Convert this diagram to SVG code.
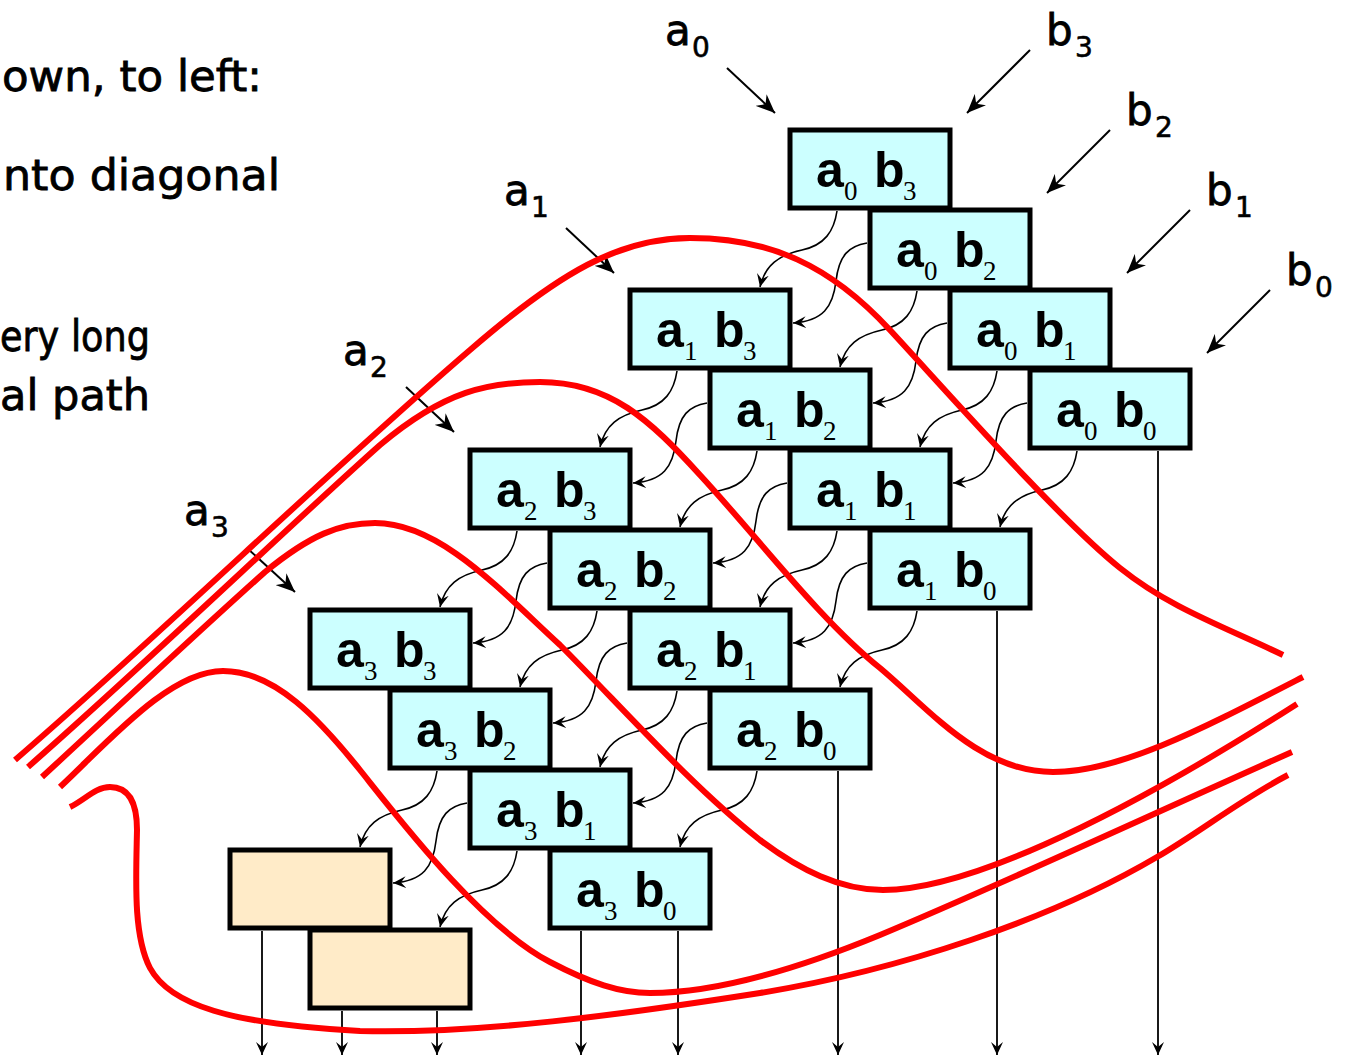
<svg xmlns="http://www.w3.org/2000/svg" width="1347" height="1058" viewBox="0 0 1347 1058">
<defs>
<style>
.pe{fill:#CCFFFF;stroke:#000;stroke-width:5}
.tan{fill:#FFEBC8;stroke:#000;stroke-width:5}
.m{font-family:"Liberation Sans",Arial,sans-serif;font-weight:bold;font-size:50px;fill:#000}
.s{font-family:"Liberation Serif","Times New Roman",serif;font-size:27px;fill:#000}
.c{font-family:"DejaVu Sans",sans-serif;font-size:42px;fill:#000;stroke:#000;stroke-width:0.8}
.cs{font-family:"DejaVu Sans",sans-serif;font-size:28px;fill:#000;stroke:#000;stroke-width:0.6}
.cn{fill:none;stroke:#000;stroke-width:1.6;marker-end:url(#ah)}
.out{fill:none;stroke:#000;stroke-width:1.8;marker-end:url(#ah)}
.in{fill:none;stroke:#000;stroke-width:2;marker-end:url(#ahL)}
.wf{fill:none;stroke:#FF0000;stroke-width:6}
</style>
<marker id="ah" viewBox="0 0 14 14" refX="13" refY="7" markerWidth="14" markerHeight="14" markerUnits="userSpaceOnUse" orient="auto"><path d="M0,1 L13,7 L0,13 L5,7 Z" fill="#000"/></marker>
<marker id="ahL" viewBox="0 0 20 16" refX="19" refY="8" markerWidth="20" markerHeight="16" markerUnits="userSpaceOnUse" orient="auto"><path d="M0,0 L19,8 L0,16 L6,8 Z" fill="#000"/></marker>
</defs>
<rect width="1347" height="1058" fill="#fff"/>

<g id="caption">
<text class="c" x="2" y="91" textLength="260" lengthAdjust="spacingAndGlyphs">own, to left:</text>
<text class="c" x="3" y="190" textLength="277" lengthAdjust="spacingAndGlyphs">nto diagonal</text>
<text class="c" x="0" y="351" textLength="150" lengthAdjust="spacingAndGlyphs">ery long</text>
<text class="c" x="0" y="410" textLength="150" lengthAdjust="spacingAndGlyphs">al path</text>
</g>

<g id="input-labels">
<text class="c" x="665" y="45">a</text><text class="cs" x="692" y="57">0</text>
<text class="c" x="504" y="205">a</text><text class="cs" x="531" y="217">1</text>
<text class="c" x="343" y="365">a</text><text class="cs" x="370" y="377">2</text>
<text class="c" x="184" y="525">a</text><text class="cs" x="211" y="537">3</text>
<text class="c" x="1046" y="45">b</text><text class="cs" x="1075" y="57">3</text>
<text class="c" x="1126" y="125">b</text><text class="cs" x="1155" y="137">2</text>
<text class="c" x="1206" y="205">b</text><text class="cs" x="1235" y="217">1</text>
<text class="c" x="1286" y="285">b</text><text class="cs" x="1315" y="297">0</text>
</g>

<g id="a0b3"><rect class="pe" x="790" y="130" width="160" height="78"/><text class="m" x="816" y="187">a</text><text class="s" x="844" y="200">0</text><text class="m" x="874" y="187">b</text><text class="s" x="903" y="200">3</text></g>
<g id="a0b2"><rect class="pe" x="870" y="210" width="160" height="78"/><text class="m" x="896" y="267">a</text><text class="s" x="924" y="280">0</text><text class="m" x="954" y="267">b</text><text class="s" x="983" y="280">2</text></g>
<g id="a0b1"><rect class="pe" x="950" y="290" width="160" height="78"/><text class="m" x="976" y="347">a</text><text class="s" x="1004" y="360">0</text><text class="m" x="1034" y="347">b</text><text class="s" x="1063" y="360">1</text></g>
<g id="a0b0"><rect class="pe" x="1030" y="370" width="160" height="78"/><text class="m" x="1056" y="427">a</text><text class="s" x="1084" y="440">0</text><text class="m" x="1114" y="427">b</text><text class="s" x="1143" y="440">0</text></g>
<g id="a1b3"><rect class="pe" x="630" y="290" width="160" height="78"/><text class="m" x="656" y="347">a</text><text class="s" x="684" y="360">1</text><text class="m" x="714" y="347">b</text><text class="s" x="743" y="360">3</text></g>
<g id="a1b2"><rect class="pe" x="710" y="370" width="160" height="78"/><text class="m" x="736" y="427">a</text><text class="s" x="764" y="440">1</text><text class="m" x="794" y="427">b</text><text class="s" x="823" y="440">2</text></g>
<g id="a1b1"><rect class="pe" x="790" y="450" width="160" height="78"/><text class="m" x="816" y="507">a</text><text class="s" x="844" y="520">1</text><text class="m" x="874" y="507">b</text><text class="s" x="903" y="520">1</text></g>
<g id="a1b0"><rect class="pe" x="870" y="530" width="160" height="78"/><text class="m" x="896" y="587">a</text><text class="s" x="924" y="600">1</text><text class="m" x="954" y="587">b</text><text class="s" x="983" y="600">0</text></g>
<g id="a2b3"><rect class="pe" x="470" y="450" width="160" height="78"/><text class="m" x="496" y="507">a</text><text class="s" x="524" y="520">2</text><text class="m" x="554" y="507">b</text><text class="s" x="583" y="520">3</text></g>
<g id="a2b2"><rect class="pe" x="550" y="530" width="160" height="78"/><text class="m" x="576" y="587">a</text><text class="s" x="604" y="600">2</text><text class="m" x="634" y="587">b</text><text class="s" x="663" y="600">2</text></g>
<g id="a2b1"><rect class="pe" x="630" y="610" width="160" height="78"/><text class="m" x="656" y="667">a</text><text class="s" x="684" y="680">2</text><text class="m" x="714" y="667">b</text><text class="s" x="743" y="680">1</text></g>
<g id="a2b0"><rect class="pe" x="710" y="690" width="160" height="78"/><text class="m" x="736" y="747">a</text><text class="s" x="764" y="760">2</text><text class="m" x="794" y="747">b</text><text class="s" x="823" y="760">0</text></g>
<g id="a3b3"><rect class="pe" x="310" y="610" width="160" height="78"/><text class="m" x="336" y="667">a</text><text class="s" x="364" y="680">3</text><text class="m" x="394" y="667">b</text><text class="s" x="423" y="680">3</text></g>
<g id="a3b2"><rect class="pe" x="390" y="690" width="160" height="78"/><text class="m" x="416" y="747">a</text><text class="s" x="444" y="760">3</text><text class="m" x="474" y="747">b</text><text class="s" x="503" y="760">2</text></g>
<g id="a3b1"><rect class="pe" x="470" y="770" width="160" height="78"/><text class="m" x="496" y="827">a</text><text class="s" x="524" y="840">3</text><text class="m" x="554" y="827">b</text><text class="s" x="583" y="840">1</text></g>
<g id="a3b0"><rect class="pe" x="550" y="850" width="160" height="78"/><text class="m" x="576" y="907">a</text><text class="s" x="604" y="920">3</text><text class="m" x="634" y="907">b</text><text class="s" x="663" y="920">0</text></g>
<g id="add1"><rect class="tan" x="230" y="850" width="160" height="78"/></g>
<g id="add2"><rect class="tan" x="310" y="930" width="160" height="78"/></g>

<g id="connectors">
<path class="in" d="M727,68 L775,113"/>
<path class="in" d="M566,228 L614,273"/>
<path class="in" d="M406,387 L454,432"/>
<path class="in" d="M247,548 L295,592"/>
<path class="in" d="M1030,50 L967,113"/>
<path class="in" d="M1110,130 L1047,193"/>
<path class="in" d="M1190,210 L1127,273"/>
<path class="in" d="M1270,290 L1207,353"/>

<path class="cn" d="M837,211 c-3,20 -12,34 -35,39 c-23,5 -37,15 -42,37"/>
<path class="cn" d="M917,291 c-3,20 -12,34 -35,39 c-23,5 -37,15 -42,37"/>
<path class="cn" d="M997,371 c-3,20 -12,34 -35,39 c-23,5 -37,15 -42,37"/>
<path class="cn" d="M1077,451 c-3,20 -12,34 -35,39 c-23,5 -37,15 -42,37"/>
<path class="cn" d="M677,371 c-3,20 -12,34 -35,39 c-23,5 -37,15 -42,37"/>
<path class="cn" d="M757,451 c-3,20 -12,34 -35,39 c-23,5 -37,15 -42,37"/>
<path class="cn" d="M837,531 c-3,20 -12,34 -35,39 c-23,5 -37,15 -42,37"/>
<path class="cn" d="M917,611 c-3,20 -12,34 -35,39 c-23,5 -37,15 -42,37"/>
<path class="cn" d="M517,531 c-3,20 -12,34 -35,39 c-23,5 -37,15 -42,37"/>
<path class="cn" d="M597,611 c-3,20 -12,34 -35,39 c-23,5 -37,15 -42,37"/>
<path class="cn" d="M677,691 c-3,20 -12,34 -35,39 c-23,5 -37,15 -42,37"/>
<path class="cn" d="M757,771 c-3,20 -12,34 -35,39 c-23,5 -37,15 -42,37"/>
<path class="cn" d="M437,771 c-3,20 -12,34 -35,39 c-23,5 -37,15 -42,37"/>
<path class="cn" d="M517,851 c-3,20 -12,34 -35,39 c-23,5 -37,15 -42,37"/>

<path class="cn" d="M867,243 c-18,3 -28,12 -31,38 c-3,26 -13,40 -43,42"/>
<path class="cn" d="M947,323 c-18,3 -28,12 -31,38 c-3,26 -13,40 -43,42"/>
<path class="cn" d="M1027,403 c-18,3 -28,12 -31,38 c-3,26 -13,40 -43,42"/>
<path class="cn" d="M707,403 c-18,3 -28,12 -31,38 c-3,26 -13,40 -43,42"/>
<path class="cn" d="M787,483 c-18,3 -28,12 -31,38 c-3,26 -13,40 -43,42"/>
<path class="cn" d="M867,563 c-18,3 -28,12 -31,38 c-3,26 -13,40 -43,42"/>
<path class="cn" d="M547,563 c-18,3 -28,12 -31,38 c-3,26 -13,40 -43,42"/>
<path class="cn" d="M627,643 c-18,3 -28,12 -31,38 c-3,26 -13,40 -43,42"/>
<path class="cn" d="M707,723 c-18,3 -28,12 -31,38 c-3,26 -13,40 -43,42"/>
<path class="cn" d="M467,803 c-18,3 -28,12 -31,38 c-3,26 -13,40 -43,42"/>

<path class="out" d="M1158,451 V1055"/>
<path class="out" d="M997,611 V1055"/>
<path class="out" d="M838,771 V1055"/>
<path class="out" d="M678,931 V1055"/>
<path class="out" d="M581,931 V1055"/>
<path class="out" d="M437,1011 V1055"/>
<path class="out" d="M342,1011 V1055"/>
<path class="out" d="M262,931 V1055"/>
</g>

<g id="wavefronts">
<path class="wf" d="M15,760 C160,635 330,470 470,350 C560,272 620,238 690,238 C770,238 830,265 890,330 C950,395 1060,520 1120,568 C1170,608 1220,625 1283,655"/>
<path class="wf" d="M28,767 C150,660 290,525 380,445 C445,390 490,382 540,382 C610,382 650,420 700,475 C760,540 820,620 880,668 C930,710 980,772 1053,772 C1120,772 1200,730 1303,677"/>
<path class="wf" d="M42,777 C120,705 200,630 265,572 C310,535 340,523 375,523 C440,523 500,590 560,645 C620,705 690,785 760,840 C800,870 840,890 883,890 C960,890 1100,830 1297,704"/>
<path class="wf" d="M60,787 C110,740 170,671 223,671 C275,671 320,720 360,770 C400,820 480,925 550,962 C590,983 620,993 650,993 C720,993 800,968 880,935 C1000,885 1150,815 1292,752"/>
<path class="wf" d="M70,807 C85,800 95,787 110,787 C127,787 137,800 137,830 C136,880 133,935 150,968 C170,1005 230,1024 360,1031 C480,1034 620,1015 760,993 C900,970 1050,920 1157,857 C1200,832 1240,800 1288,775"/>
</g>
</svg>
